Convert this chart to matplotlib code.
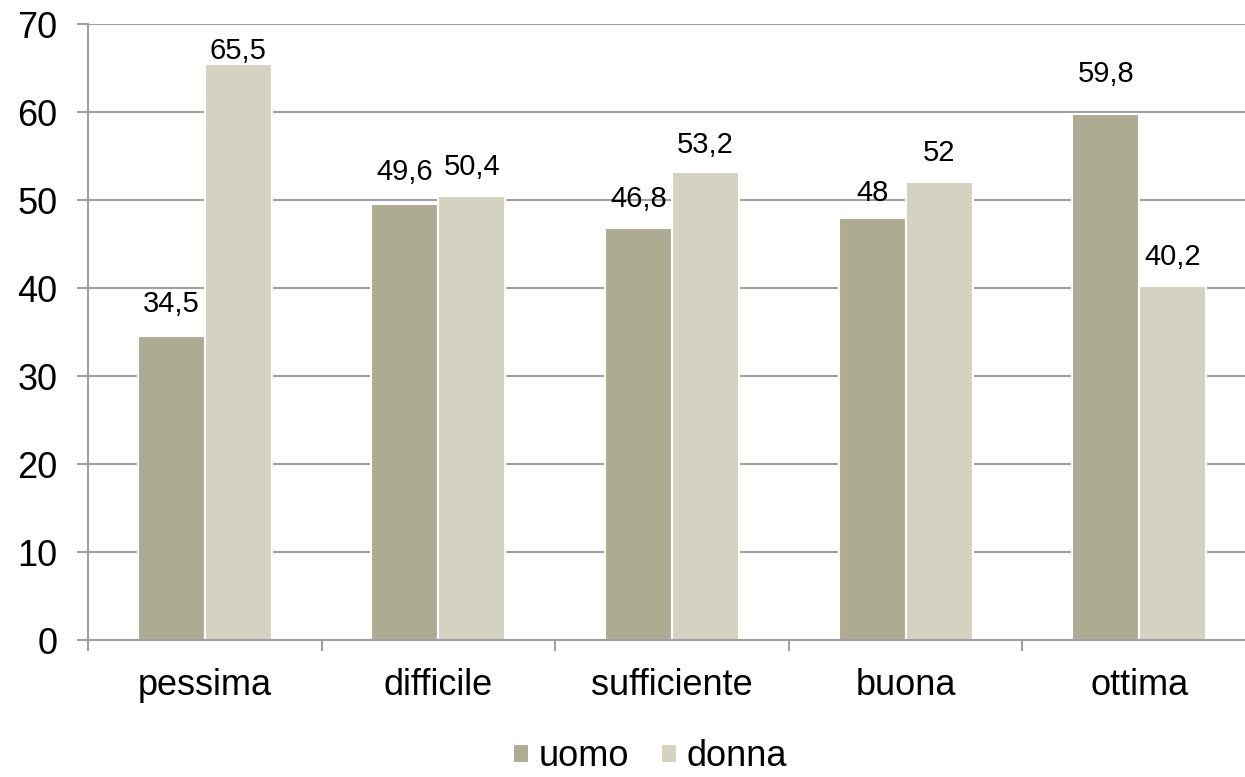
import matplotlib
matplotlib.use("Agg")
import matplotlib.pyplot as plt
import numpy as np

categories = ["pessima", "difficile", "sufficiente", "buona", "ottima"]
uomo = [34.5, 49.6, 46.8, 48, 59.8]
donna = [65.5, 50.4, 53.2, 52, 40.2]
series_names = ["uomo", "donna"]
y_ticks = [0, 10, 20, 30, 40, 50, 60, 70]

# baseline offset (points) of each value label above its bar top
uomo_label_gap = [17.7, 17.0, 15.5, 11.9, 22.7]
donna_label_gap = [3.3, 15.5, 13.4, 15.5, 15.5]

plt.rcParams["font.family"] = ["Liberation Sans", "DejaVu Sans"]

fig = plt.figure(figsize=(12.45, 7.77), dpi=100)
ax = fig.add_axes([88 / 1245, 1 - 640 / 777, (1256 - 88) / 1245, (640 - 24) / 777])

grid_col = "#a0a0a0"
c_uomo = "#adac93"
c_donna = "#d4d3c1"

x = np.arange(len(categories))
w = 0.287
b1 = ax.bar(x - w / 2, uomo, w, color=c_uomo, edgecolor="white", linewidth=1.5,
            label=series_names[0], zorder=3)
b2 = ax.bar(x + w / 2, donna, w, color=c_donna, edgecolor="white", linewidth=1.5,
            label=series_names[1], zorder=3)


def fmt(v):
    return f"{v:g}".replace(".", ",")


for bars, vals, gaps in ((b1, uomo, uomo_label_gap), (b2, donna, donna_label_gap)):
    for r, v, g in zip(bars, vals, gaps):
        ax.annotate(fmt(v), (r.get_x() + r.get_width() / 2, v),
                    xytext=(0, g), textcoords="offset points",
                    ha="center", va="baseline", fontsize=21, color="black",
                    zorder=4, annotation_clip=False)

ax.set_xlim(-0.5, len(categories) - 0.5)
ax.set_ylim(0, 70)
ax.set_yticks(y_ticks)
ax.set_yticklabels([str(t) for t in y_ticks], fontsize=26)
ax.set_xticks(x)
ax.set_xticklabels(categories, fontsize=26)
ax.set_xticks(np.arange(-0.5, len(categories)), minor=True)
ax.tick_params(axis="x", which="major", length=0, pad=20)
ax.tick_params(axis="x", which="minor", length=8, width=1.5, color=grid_col, direction="out")
ax.tick_params(axis="y", length=8, width=1.5, color=grid_col, direction="out", pad=14)

ax.yaxis.grid(True, color=grid_col, linewidth=1.5, zorder=0)
ax.set_axisbelow(True)
for s in ("top", "right"):
    ax.spines[s].set_visible(False)
for s in ("left", "bottom"):
    ax.spines[s].set_color(grid_col)
    ax.spines[s].set_linewidth(1.5)
    ax.spines[s].set_zorder(3.5)

fig.legend(handles=[b1, b2], labels=series_names, loc="center",
           bbox_to_anchor=(650 / 1245, 1 - 757 / 777), ncol=2, frameon=False,
           fontsize=26, handlelength=0.45, handleheight=0.45, handletextpad=0.27,
           columnspacing=0.87, borderpad=0, borderaxespad=0)

fig.savefig("out.png", dpi=100)
